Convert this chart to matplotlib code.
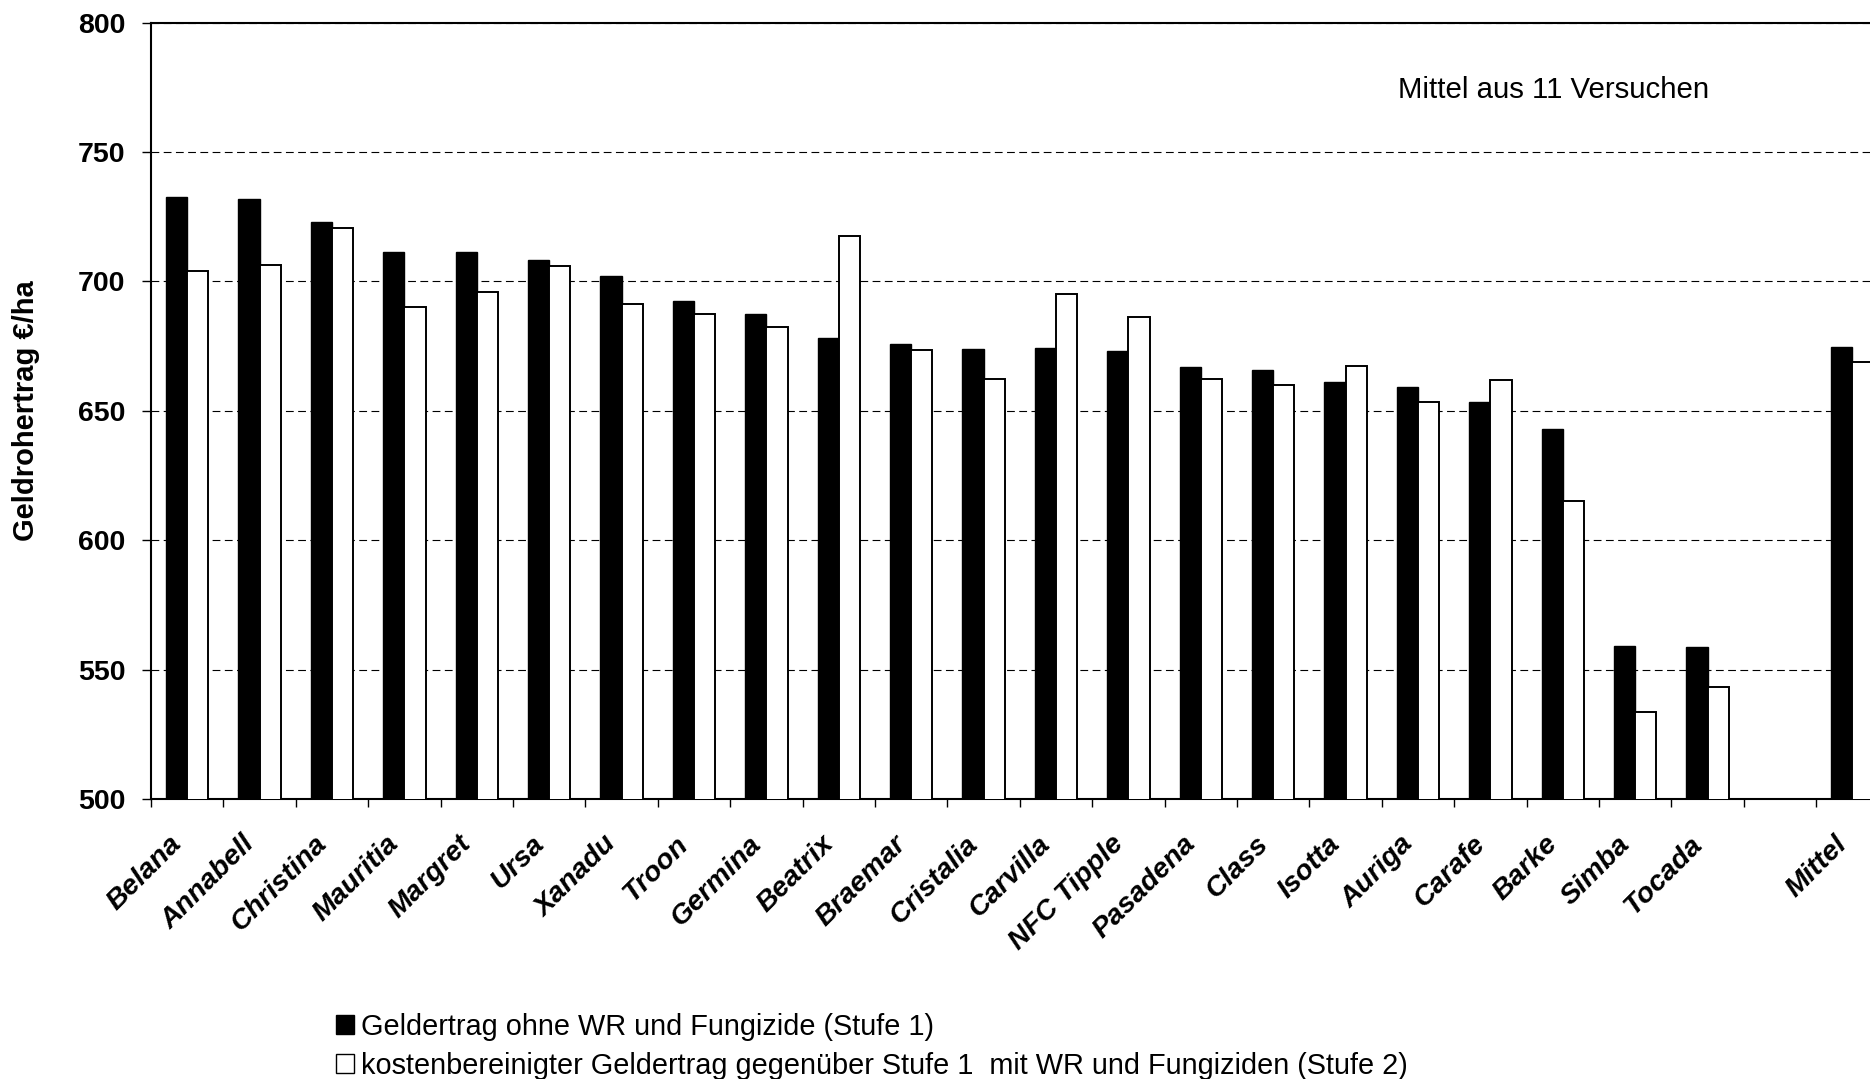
import numpy as np
import matplotlib

matplotlib.use("Agg")
from matplotlib import pyplot as plt
from matplotlib.patches import Patch

plt.rcParams["font.family"] = ["Liberation Sans", "DejaVu Sans"]

# Geldrohertrag je Sorte, Mittel aus 11 Versuchen
sorten = [
    "Belana", "Annabell", "Christina", "Mauritia", "Margret", "Ursa",
    "Xanadu", "Troon", "Germina", "Beatrix", "Braemar", "Cristalia",
    "Carvilla", "NFC Tipple", "Pasadena", "Class", "Isotta", "Auriga",
    "Carafe", "Barke", "Simba", "Tocada",
]
stufe1 = [
    732.8, 731.8, 723.1, 711.4, 711.2, 708.3, 702.1, 692.4, 687.6, 678.1,
    676.0, 674.0, 674.2, 673.0, 666.8, 665.8, 661.1, 659.1, 653.4, 642.9,
    559.0, 558.8,
]
stufe2 = [
    704.1, 706.5, 720.5, 690.0, 696.0, 705.9, 691.4, 687.6, 682.3, 717.4,
    673.4, 662.3, 695.0, 686.1, 662.5, 660.1, 667.2, 653.4, 661.9, 615.3,
    533.7, 543.4,
]
mittel_label = "Mittel"
mittel_stufe1 = 674.8
mittel_stufe2 = 669.0

labels = sorten + [mittel_label]
werte1 = stufe1 + [mittel_stufe1]
werte2 = stufe2 + [mittel_stufe2]
# one empty slot between the last variety and the mean
pos = np.array(list(range(len(sorten))) + [len(sorten) + 1]) + 0.5

W, H = 1870, 1079
fig = plt.figure(figsize=(W / 100, H / 100), dpi=100)
ax = fig.add_axes([151 / W, 1 - 799 / H, 1737.6 / W, (799 - 22.7) / H])

bw = 0.294
ax.bar(pos - bw / 2, werte1, bw, color="black", edgecolor="black",
       linewidth=1.0, zorder=3)
ax.bar(pos + bw / 2, werte2, bw, color="white", edgecolor="black",
       linewidth=1.4, zorder=3)

ax.set_xlim(0, len(sorten) + 2)
ax.set_ylim(500, 800)
ax.set_yticks(np.arange(500, 801, 50))
ax.yaxis.grid(True, linestyle=(0, (7, 4)), color="black", linewidth=0.8, zorder=0)

# category borders carry the ticks, labels sit in the middle
ax.set_xticks(np.arange(0, len(sorten) + 3))
ax.set_xticklabels([])
ax.set_xticks(pos, minor=True)
ax.set_xticklabels(labels, minor=True, rotation=45, ha="right",
                   fontsize=20.5, fontweight="bold", fontstyle="italic")
ax.tick_params(axis="x", which="major", direction="out", length=6, width=1)
ax.tick_params(axis="x", which="minor", length=0, pad=23)
ax.tick_params(axis="y", direction="out", length=6.5, width=1, pad=12,
               labelsize=20.5)
for t in ax.get_yticklabels():
    t.set_fontweight("bold")

for s in ax.spines.values():
    s.set_linewidth(1.5)
    s.set_color("black")

ax.set_ylabel("Geldrohertrag €/ha", fontsize=21, fontweight="bold")
ax.yaxis.set_label_coords(-0.064, 0.5)

ax.text(0.807, 0.913, "Mittel aus 11 Versuchen", transform=ax.transAxes,
        ha="center", va="center", fontsize=21.2)

handles = [
    Patch(facecolor="black", edgecolor="black"),
    Patch(facecolor="white", edgecolor="black"),
]
legend_labels = [
    "Geldertrag ohne WR und Fungizide (Stufe 1)",
    "kostenbereinigter Geldertrag gegenüber Stufe 1  mit WR und Fungiziden (Stufe 2)",
]
fig.legend(handles, legend_labels, loc="upper left",
           bbox_to_anchor=(336 / W, 1 - 1013 / H), frameon=False,
           fontsize=20.8, handlelength=0.62, handleheight=0.62,
           handletextpad=0.25, labelspacing=0.37, borderpad=0,
           borderaxespad=0)

fig.savefig("out.png", dpi=100)
